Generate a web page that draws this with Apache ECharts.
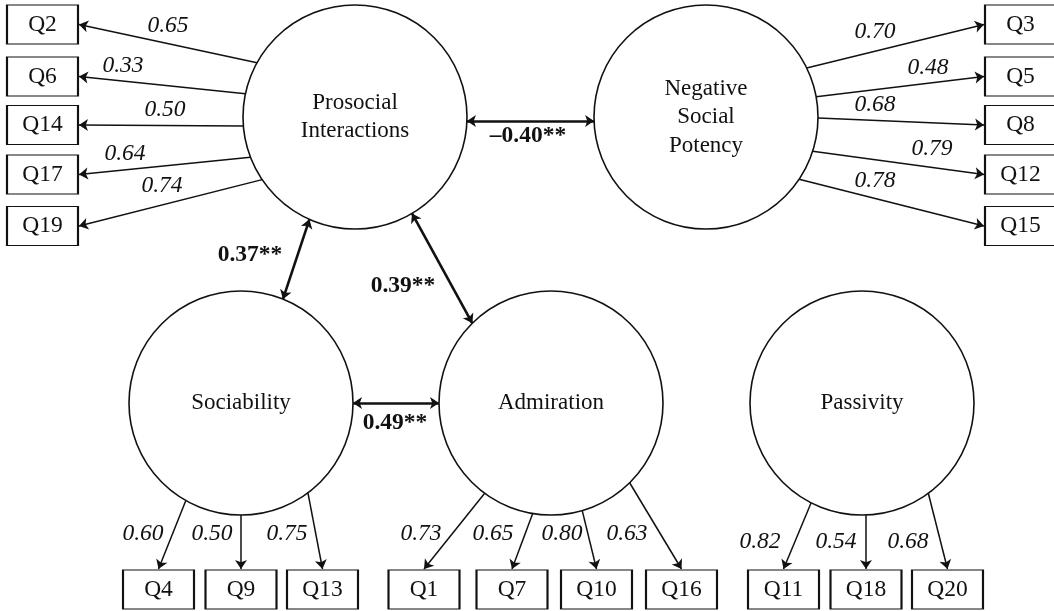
<!DOCTYPE html>
<html>
<head>
<meta charset="utf-8">
<script src="https://cdn.jsdelivr.net/npm/echarts@6/dist/echarts.min.js"></script>
<style>
html,body{margin:0;padding:0;background:#fff;}
#chart{width:1054px;height:611px;}
</style>
</head>
<body>
<div id="chart"></div>
<script>
// ---------- DATA ----------
const factorNames = ['Prosocial\nInteractions', 'Negative\nSocial\nPotency', 'Sociability', 'Admiration', 'Passivity'];
const piItems  = ['Q2', 'Q6', 'Q14', 'Q17', 'Q19'];
const piLoad   = [0.65, 0.33, 0.50, 0.64, 0.74];
const nspItems = ['Q3', 'Q5', 'Q8', 'Q12', 'Q15'];
const nspLoad  = [0.70, 0.48, 0.68, 0.79, 0.78];
const socItems = ['Q4', 'Q9', 'Q13'];
const socLoad  = [0.60, 0.50, 0.75];
const admItems = ['Q1', 'Q7', 'Q10', 'Q16'];
const admLoad  = [0.73, 0.65, 0.80, 0.63];
const pasItems = ['Q11', 'Q18', 'Q20'];
const pasLoad  = [0.82, 0.54, 0.68];
const corrPairs  = [[0, 1], [0, 2], [0, 3], [2, 3]];
const corrValues = [-0.40, 0.37, 0.39, 0.49];
const corrSig    = ['**', '**', '**', '**'];

// ---------- LAYOUT (diagram geometry, pixel space of the hidden axes) ----------
const W = 1054, H = 611;
const R = 112;
const BOX = [71, 39];
const factorCenters = [[355, 117], [706, 117], [241, 403], [551, 403], [862, 403]];
const groups = [
  { factor: 0, items: piItems, load: piLoad, side: 'left',
    boxes: [[42.5, 24.5], [42.5, 76.5], [42.5, 125], [42.5, 174.5], [42.5, 226]],
    angles: [209, 192, 175.4, 159, 146],
    labels: [[168, 26], [123, 66], [165, 110], [125, 154], [162, 186]] },
  { factor: 1, items: nspItems, load: nspLoad, side: 'right',
    boxes: [[1020.5, 24.5], [1020.5, 76.5], [1020.5, 125], [1020.5, 174.5], [1020.5, 226]],
    angles: [-26, -10.4, 0.5, 17.8, 33.8],
    labels: [[875, 32], [928, 68], [875, 105], [932, 149], [875, 181]] },
  { factor: 2, items: socItems, load: socLoad, side: 'bottom',
    boxes: [[158.5, 589.5], [241, 589.5], [322.5, 589.5]],
    angles: [119.5, 90, 53.3],
    labels: [[143, 534], [212, 534], [287, 534]] },
  { factor: 3, items: admItems, load: admLoad, side: 'bottom',
    boxes: [[424, 589.5], [512, 589.5], [596.5, 589.5], [681.5, 589.5]],
    angles: [126.3, 99.4, 73.8, 45.4],
    labels: [[421, 534], [493, 534], [562, 534], [627, 534]] },
  { factor: 4, items: pasItems, load: pasLoad, side: 'bottom',
    boxes: [[783.5, 589.5], [866, 589.5], [947.5, 589.5]],
    angles: [117, 88, 53.7],
    labels: [[760, 542], [836, 542], [908, 542]] }
];
const corrAngles = [[2, 178], [114, -68], [59.4, 225.4], [0, 180]];
const corrLabels = [[528, 136], [250, 255], [403, 286], [395, 423]];

const ARROW = 9;
const FONT = 'Liberation Serif, Times New Roman, serif';
const FS = 23.5;
const INK = '#111';

function onCircle(c, a) {
  const t = a * Math.PI / 180;
  return [c[0] + R * Math.cos(t), c[1] + R * Math.sin(t)];
}
function boxEdge(b, side) {
  if (side === 'left') return [b[0] + BOX[0] / 2 + 1, b[1]];
  if (side === 'right') return [b[0] - BOX[0] / 2 - 1, b[1]];
  return [b[0], b[1] - BOX[1] / 2 - 1];
}

const factorData = factorNames.map((n, i) => ({ name: n, value: factorCenters[i] }));
const boxData = [];
const loadLines = [];
const loadLabelData = [];
groups.forEach(g => {
  g.items.forEach((it, k) => {
    boxData.push({ name: it, value: g.boxes[k] });
    const s = onCircle(factorCenters[g.factor], g.angles[k]);
    const e = boxEdge(g.boxes[k], g.side);
    loadLines.push({ coords: [s, e] });
    loadLabelData.push({ name: g.load[k].toFixed(2), value: g.labels[k] });
  });
});
const corrLines = corrPairs.map((p, i) => {
  const a = onCircle(factorCenters[p[0]], corrAngles[i][0]);
  const b = onCircle(factorCenters[p[1]], corrAngles[i][1]);
  return { coords: [a, b] };
});
const corrLabelData = corrValues.map((v, i) => ({
  name: (v < 0 ? '\u2013' : '') + Math.abs(v).toFixed(2) + corrSig[i],
  value: corrLabels[i]
}));

const chart = echarts.init(document.getElementById('chart'), null, { renderer: 'canvas' });
chart.setOption({
  animation: false,
  backgroundColor: '#fff',
  grid: { left: 0, right: 0, top: 0, bottom: 0 },
  xAxis: { type: 'value', min: 0, max: W, show: false },
  yAxis: { type: 'value', min: 0, max: H, inverse: true, show: false },
  series: [
    {
      type: 'lines', coordinateSystem: 'cartesian2d', z: 2, silent: true,
      symbol: ['none', 'arrow'], symbolSize: ARROW,
      lineStyle: { color: INK, width: 1.5, opacity: 1 },
      data: loadLines
    },
    {
      type: 'lines', coordinateSystem: 'cartesian2d', z: 2, silent: true,
      symbol: ['arrow', 'arrow'], symbolSize: ARROW,
      lineStyle: { color: INK, width: 2.6, opacity: 1 },
      data: corrLines
    },
    {
      type: 'scatter', z: 3, silent: true,
      symbol: 'circle', symbolSize: 2 * R,
      itemStyle: { color: '#fff', borderColor: INK, borderWidth: 1.6, opacity: 1 },
      label: { show: true, position: 'inside', formatter: '{b}', color: INK,
               fontFamily: FONT, fontSize: 23, lineHeight: 28.5 },
      data: factorData
    },
    {
      type: 'scatter', z: 3, silent: true,
      symbol: 'rect', symbolSize: BOX,
      itemStyle: { color: '#fff', borderColor: INK, borderWidth: 1.6, opacity: 1 },
      label: { show: true, position: 'inside', formatter: '{b}', color: INK,
               fontFamily: FONT, fontSize: FS },
      data: boxData
    },
    {
      type: 'scatter', z: 4, silent: true,
      symbol: 'circle', symbolSize: 1,
      itemStyle: { color: 'rgba(0,0,0,0)', opacity: 1 },
      label: { show: true, position: 'inside', formatter: '{b}', color: INK,
               fontFamily: FONT, fontSize: FS, fontStyle: 'italic' },
      data: loadLabelData
    },
    {
      type: 'scatter', z: 4, silent: true,
      symbol: 'circle', symbolSize: 1,
      itemStyle: { color: 'rgba(0,0,0,0)', opacity: 1 },
      label: { show: true, position: 'inside', formatter: '{b}', color: INK,
               fontFamily: FONT, fontSize: FS, fontWeight: 'bold' },
      data: corrLabelData
    }
  ]
});
</script>
</body>
</html>
